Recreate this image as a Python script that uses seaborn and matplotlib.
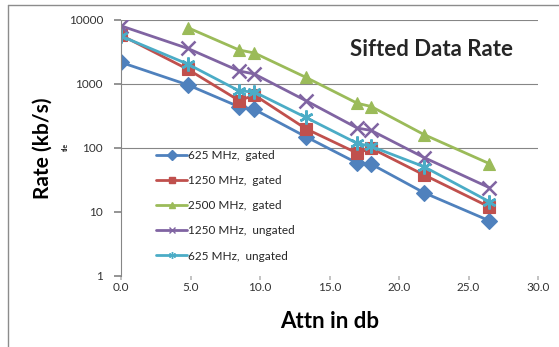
import pandas as pd
import numpy as np
import matplotlib
matplotlib.use("Agg")
import matplotlib.pyplot as plt
from matplotlib.lines import Line2D
from matplotlib.ticker import FixedLocator, FixedFormatter
import seaborn as sns

# dados
attn = [0.0, 4.8, 8.5, 9.6, 13.3, 17.0, 18.0, 21.8, 26.5]
attn_green = [4.8, 8.5, 9.6, 13.3, 17.0, 18.0, 21.8, 26.5]

rate_625_gated = [2180, 970, 440, 400, 150, 58, 56, 20, 7.3]
rate_1250_gated = [5800, 1700, 550, 670, 200, 83, 99, 38, 12]
rate_2500_gated = [7600, 3400, 3050, 1270, 500, 445, 162, 57]
rate_1250_ungated = [8100, 3600, 1600, 1430, 550, 205, 188, 71, 24]
rate_625_ungated = [5600, 2050, 780, 750, 300, 118, 106, 51, 14.5]

series = ["625 MHz,  gated", "1250 MHz,  gated", "2500 MHz,  gated",
          "1250 MHz,  ungated", "625 MHz,  ungated"]
cores = ["#4F81BD", "#C0504D", "#9BBB59", "#8064A2", "#4BACC6"]
marcadores = ["D", "s", "^", "x", (6, 2, 0)]
tamanhos = [8, 8, 8, 10, 10]

y_ticks = [1, 10, 100, 1000, 10000]
y_labels = ["1", "10", "100", "1000", "10000"]
x_ticks = [0, 5, 10, 15, 20, 25, 30]


def montar_df():
    partes = []
    valores = [rate_625_gated, rate_1250_gated, rate_2500_gated,
               rate_1250_ungated, rate_625_ungated]
    for nome, vals in zip(series, valores):
        xs = attn_green if len(vals) == len(attn_green) else attn
        partes.append(pd.DataFrame({"Attn": xs, "Rate": vals, "Serie": nome}))
    return pd.concat(partes, ignore_index=True)


df = montar_df()

sns.set_theme(style="white")
plt.rcParams["font.family"] = ["Lato", "DejaVu Sans"]

fig = plt.figure(figsize=(5.59, 3.47), dpi=100)
ax = fig.add_axes([121 / 559, 1 - 276 / 347, (538 - 121) / 559, (276 - 20) / 347])

sns.lineplot(data=df, x="Attn", y="Rate", hue="Serie", hue_order=series,
             palette=cores, linewidth=2, legend=False, ax=ax, sort=True)

linhas = ax.get_lines()
for ln, cor, mk, ms in zip(linhas, cores, marcadores, tamanhos):
    ln.set_marker(mk)
    ln.set_markersize(ms)
    ln.set_markerfacecolor(cor)
    ln.set_markeredgecolor(cor)
    ln.set_markeredgewidth(1.8 if mk in ("x",) or isinstance(mk, tuple) else 0.8)

ax.set_yscale("log")
ax.set_ylim(1, 10000)
ax.set_xlim(0, 30)
ax.yaxis.set_major_locator(FixedLocator(y_ticks))
ax.yaxis.set_major_formatter(FixedFormatter(y_labels))
ax.yaxis.set_minor_locator(FixedLocator([]))
ax.set_xticks(x_ticks)
ax.set_xticklabels([f"{v:.1f}" for v in x_ticks])

for s in ["top", "right", "bottom"]:
    ax.spines[s].set_visible(False)
ax.spines["left"].set_color("#868686")
ax.spines["left"].set_linewidth(0.8)

ax.grid(axis="y", color="#868686", linewidth=0.8)
for t, v in zip(ax.yaxis.get_major_ticks(), y_ticks):
    if v < 100:
        t.gridline.set_visible(False)
        t.tick1line.set_visible(False)

ax.tick_params(axis="y", which="major", direction="out", length=5, color="#868686",
               labelsize=8.5, labelcolor="#333333", left=True, pad=8)
ax.tick_params(axis="x", direction="out", length=3, color="#BBBBBB",
               labelsize=8.5, labelcolor="#333333", bottom=True, pad=1)

ax.set_xlabel("Attn in db", fontsize=16, fontweight="bold", color="black")
ax.set_ylabel("Rate (kb/s)", fontsize=15, fontweight="bold", color="black")
ax.yaxis.set_label_coords(-0.165, 0.5)
ax.xaxis.set_label_coords(0.5, -0.176)
ax.xaxis.label.set_va("center")

fig.text(431 / 559, 1 - 50 / 347, "Sifted Data Rate", fontsize=16,
         fontweight="bold", ha="center", va="center")
fig.text(65 / 559, 1 - 147 / 347, "tle", fontsize=5, fontweight="bold",
         rotation=90, ha="center", va="center")

handles = [Line2D([0], [0], color=c, linewidth=2, marker=m,
                  markersize=5, markerfacecolor=c, markeredgecolor=c,
                  markeredgewidth=1)
           for c, m in zip(cores, marcadores)]
ax.legend(handles, series, loc="upper left", bbox_to_anchor=(0.065, 0.525),
          frameon=False, fontsize=8.5, handlelength=2.6, handletextpad=0.1,
          labelspacing=1.2, borderpad=0.2)

# moldura externa do grafico (estilo Excel)
fig.add_artist(Line2D([8 / 559, 8 / 559], [0, 1 - 5 / 347], color="#8C8C8C", linewidth=1))
fig.add_artist(Line2D([8 / 559, 1], [1 - 5 / 347, 1 - 5 / 347], color="#8C8C8C", linewidth=1))

fig.savefig("out.png", dpi=100)
plt.close(fig)
